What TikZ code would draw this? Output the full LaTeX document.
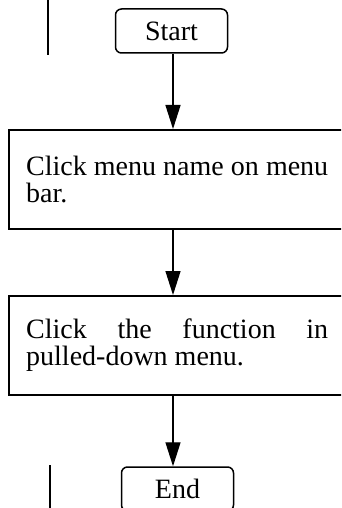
\documentclass[tikz,border=0pt]{standalone}
\usepackage{fontspec}
\setmainfont{Liberation Serif}
\usetikzlibrary{arrows.meta,calc}
\begin{document}
\begin{tikzpicture}[x=1pt,y=-1pt,
  every node/.style={font=\fontsize{28}{27}\selectfont},
  term/.style={draw,line width=1.5pt,rounded corners=6pt,minimum width=112pt,minimum height=44pt,inner sep=0pt},
  procbox/.style={draw,line width=1.8pt,minimum width=380pt,minimum height=99pt,inner sep=0pt,anchor=north west},
  boxtext/.style={text width=302pt,align=justify,inner sep=0pt,anchor=north west},
  flow/.style={line width=1.4pt,-{Triangle[length=24pt,width=15pt]}},
  rule/.style={line width=1.4pt}]
\useasboundingbox (0,0) rectangle (341,508);
\clip (0,0) rectangle (341,508);
\node[term] (start) at (171.5,31) {Start};
\node[procbox] (b1) at (8,129) {};
\node[boxtext] (t1) at (26,156) {Click menu name on menu bar.};
\node[procbox] (b2) at (8,295) {};
\node[boxtext] (t2) at (26,319) {Click the function in \mbox{pulled-down} menu.};
\node[term] (end) at (177.5,489) {End};
\coordinate (ax) at (173,0);
\coordinate (l1a) at (48,0);
\coordinate (l1b) at (48,55);
\coordinate (l2a) at (50,465);
\coordinate (l2b) at (50,508);
\draw[flow] (start.south -| ax) -- (b1.north -| ax);
\draw[flow] (b1.south -| ax) -- (b2.north -| ax);
\draw[flow] (b2.south -| ax) -- (end.north -| ax);
\draw[rule] (l1a) -- (l1b);
\draw[rule] (l2a) -- (l2b);
\end{tikzpicture}
\end{document}
